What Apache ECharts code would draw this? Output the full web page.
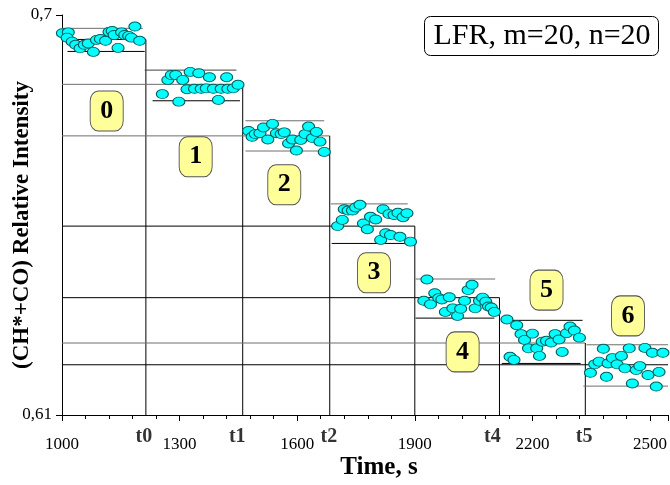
<!DOCTYPE html>
<html>
<head>
<meta charset="utf-8">
<script src="https://cdn.jsdelivr.net/npm/echarts@6/dist/echarts.min.js"></script>
<style>
html,body{margin:0;padding:0;background:#fff;}
#chart{width:670px;height:485px;}
</style>
</head>
<body>
<div id="chart"></div>
<script>
// ---------- data ----------
const xTicks = [1000, 1300, 1600, 1900, 2200, 2500];
const yTicks = [0.61, 0.7];

const step0 = [[1001,0.6959],[1016,0.6961],[1013,0.6949],[1026,0.6940],[1035,0.6933],[1046,0.6925],[1057,0.6933],[1067,0.6936],[1080,0.6917],[1088,0.6944],[1098,0.6946],[1111,0.6942],[1120,0.6962],[1128,0.6964],[1133,0.6955],[1143,0.6926],[1152,0.6961],[1160,0.6955],[1170,0.6953],[1177,0.6949],[1186,0.6974],[1198,0.6942]];
const step1 = [[1256,0.6822],[1270,0.6854],[1279,0.6865],[1290,0.6865],[1308,0.6854],[1298,0.6805],[1319,0.6833],[1327,0.6872],[1338,0.6834],[1349,0.6869],[1355,0.6834],[1368,0.6835],[1376,0.6860],[1386,0.6834],[1399,0.6809],[1406,0.6834],[1420,0.6860],[1423,0.6834],[1437,0.6835],[1449,0.6843]];
const step2 = [[1476,0.6739],[1485,0.6726],[1493,0.6732],[1505,0.6734],[1514,0.6747],[1525,0.6720],[1537,0.6755],[1547,0.6734],[1559,0.6732],[1567,0.6736],[1578,0.6711],[1588,0.6720],[1598,0.6695],[1609,0.6719],[1620,0.6732],[1629,0.6749],[1639,0.6723],[1649,0.6737],[1658,0.6715],[1669,0.6692]];
const step3 = [[1703,0.6525],[1715,0.6539],[1720,0.6563],[1730,0.6560],[1741,0.6560],[1749,0.6567],[1760,0.6573],[1769,0.6531],[1779,0.6518],[1787,0.6546],[1800,0.6540],[1813,0.6494],[1819,0.6563],[1826,0.6509],[1834,0.6552],[1838,0.6505],[1847,0.6550],[1857,0.6555],[1862,0.6501],[1870,0.6545],[1880,0.6554],[1889,0.6490]];
const step4 = [[1923,0.6357],[1931,0.6405],[1940,0.6349],[1951,0.6374],[1961,0.6363],[1969,0.6360],[1978,0.6332],[1988,0.6365],[1997,0.6340],[2009,0.6323],[2017,0.6339],[2027,0.6357],[2036,0.6381],[2046,0.6393],[2054,0.6340],[2065,0.6357],[2073,0.6364],[2081,0.6355],[2088,0.6344],[2095,0.6342],[2103,0.6332]];
const step5 = [[2135,0.6315],[2143,0.6231],[2153,0.6224],[2160,0.6302],[2171,0.6282],[2180,0.6269],[2190,0.6250],[2200,0.6283],[2211,0.6250],[2218,0.6233],[2225,0.6265],[2236,0.6267],[2248,0.6263],[2258,0.6282],[2268,0.6270],[2276,0.6242],[2287,0.6284],[2296,0.6299],[2307,0.6290],[2320,0.6274]];
const step6 = [[2348,0.6195],[2359,0.6214],[2370,0.6220],[2381,0.6249],[2389,0.6186],[2393,0.6216],[2404,0.6228],[2416,0.6214],[2427,0.6233],[2436,0.6205],[2447,0.6250],[2455,0.6171],[2465,0.6201],[2474,0.6210],[2487,0.6251],[2495,0.6190],[2506,0.6240],[2516,0.6164],[2523,0.6197],[2533,0.6240]];

// step boundaries (right end of each level) and level values
const levelEnd = [1214, 1461, 1683, 1900, 2116, 2335, 2546];
const levelVal = [0.6945, 0.6844, 0.6728, 0.6525, 0.6364, 0.6262, 0.6213];
// band lines: [start, end, value]
const upperBand = [[1000,1206,0.6970],[1211,1445,0.6876],[1468,1669,0.6762],[1686,1882,0.6575],[1902,2105,0.6406],[2123,2328,0.6313],[2338,2546,0.6258]];
const lowerBand = [[1014,1211,0.6918],[1231,1454,0.6807],[1468,1683,0.6694],[1688,1900,0.6486],[1902,2103,0.6318],[2122,2323,0.6216],[2330,2546,0.6165]];

const stepNames = ['0','1','2','3','4','5','6'];
const stepLabelPos = [[1114,0.6784],[1341,0.6681],[1567,0.6618],[1796,0.6420],[2022,0.6242],[2236,0.6381],[2444,0.6323]];

const tNames = ['t0','t1','t2','t4','t5'];
const tPos = [1209, 1447, 1681, 2098, 2332];

// ---------- styles ----------
const SERIF = '"Liberation Serif","Times New Roman",serif';
const GRAY = '#6e6e6e', BLACK = '#000000';
const levelColors = [BLACK, GRAY, GRAY, BLACK, BLACK, GRAY, BLACK];
const upperColors = [GRAY, '#404040', GRAY, GRAY, GRAY, BLACK, GRAY];
const lowerColors = [BLACK, BLACK, GRAY, BLACK, BLACK, BLACK, GRAY];

const xMin = 1000, xMax = 2546, yMin = 0.61;

function seg(data, color) {
  return {
    type: 'line', data: data, showSymbol: false, symbol: 'none', silent: true,
    lineStyle: {color: color, width: 1}, z: 2, animation: false, clip: false
  };
}

const series = [];
levelVal.forEach((v, i) => {
  series.push(seg([[xMin, v], [levelEnd[i], v]], levelColors[i]));
  if (i < levelEnd.length - 1) series.push(seg([[levelEnd[i], v], [levelEnd[i], yMin]], BLACK));
});
upperBand.forEach((b, i) => series.push(seg([[b[0], b[2]], [b[1], b[2]]], upperColors[i])));
lowerBand.forEach((b, i) => series.push(seg([[b[0], b[2]], [b[1], b[2]]], lowerColors[i])));

[step0, step1, step2, step3, step4, step5, step6].forEach(d => {
  series.push({
    type: 'scatter', data: d, symbol: 'circle', symbolSize: [12, 9], z: 5, animation: false,
    itemStyle: {color: '#00ffff', borderColor: '#005f5f', borderWidth: 1, opacity: 1}
  });
});

series.push({
  type: 'scatter', z: 8, animation: false, silent: true,
  data: stepLabelPos.map((p, i) => ({value: p, name: stepNames[i]})),
  symbol: 'roundRect', symbolSize: [33, 40],
  itemStyle: {color: '#ffff99', borderColor: '#555555', borderWidth: 1, opacity: 1},
  label: {show: true, position: 'inside', formatter: p => p.name, color: '#000',
    fontFamily: SERIF, fontWeight: 'bold', fontSize: 26}
});

series.push({
  type: 'scatter', z: 8, animation: false, silent: true, clip: false,
  data: tPos.map((x, i) => ({value: [x, yMin], name: tNames[i]})),
  symbolSize: 0,
  label: {show: true, position: 'inside', offset: [0, 22], formatter: p => p.name, color: '#000',
    fontFamily: SERIF, fontWeight: 'bold', fontSize: 20}
});

const option = {
  animation: false,
  backgroundColor: '#ffffff',
  grid: {left: 62, top: 15, right: 0, bottom: 70, containLabel: false},
  xAxis: {
    type: 'value', min: xMin, max: xMax, interval: 300,
    axisLine: {show: true, lineStyle: {color: '#000', width: 1}},
    axisTick: {show: true, length: 6, lineStyle: {color: '#000'}},
    minorTick: {show: true, splitNumber: 5, length: 4, lineStyle: {color: '#000'}},
    splitLine: {show: false},
    axisLabel: {
      margin: 21, color: '#000', fontFamily: SERIF, fontSize: 17, showMaxLabel: false,
      formatter: v => (xTicks.indexOf(v) >= 0 ? String(v) : '')
    }
  },
  yAxis: {
    type: 'value', min: yTicks[0], max: yTicks[1], interval: 0.09,
    axisLine: {show: true, lineStyle: {color: '#000', width: 1}},
    axisTick: {show: true, length: 6, lineStyle: {color: '#000'}},
    splitLine: {show: false},
    axisLabel: {
      margin: 10, color: '#000', fontFamily: SERIF, fontSize: 17,
      formatter: v => String(+v.toFixed(2)).replace('.', ',')
    }
  },
  graphic: [
    {type: 'text', x: 22, y: 225, rotation: Math.PI / 2, z: 10,
      style: {text: '(CH*+CO) Relative Intensity', align: 'center', verticalAlign: 'middle',
        fontFamily: SERIF, fontWeight: 'bold', fontSize: 23, fill: '#000'}},
    {type: 'text', x: 379, y: 468, z: 10,
      style: {text: 'Time, s', align: 'center', verticalAlign: 'middle',
        fontFamily: SERIF, fontWeight: 'bold', fontSize: 25, fill: '#000'}},
    {type: 'rect', z: 10, shape: {x: 424.5, y: 16.5, width: 234, height: 39, r: 6},
      style: {fill: '#fff', stroke: '#000', lineWidth: 1}},
    {type: 'text', x: 542, y: 36, z: 11,
      style: {text: 'LFR, m=20, n=20', align: 'center', verticalAlign: 'middle',
        fontFamily: SERIF, fontSize: 30, fill: '#000'}}
  ],
  series: series
};

const chart = echarts.init(document.getElementById('chart'), null, {renderer: 'canvas'});
chart.setOption(option);
</script>
</body>
</html>
